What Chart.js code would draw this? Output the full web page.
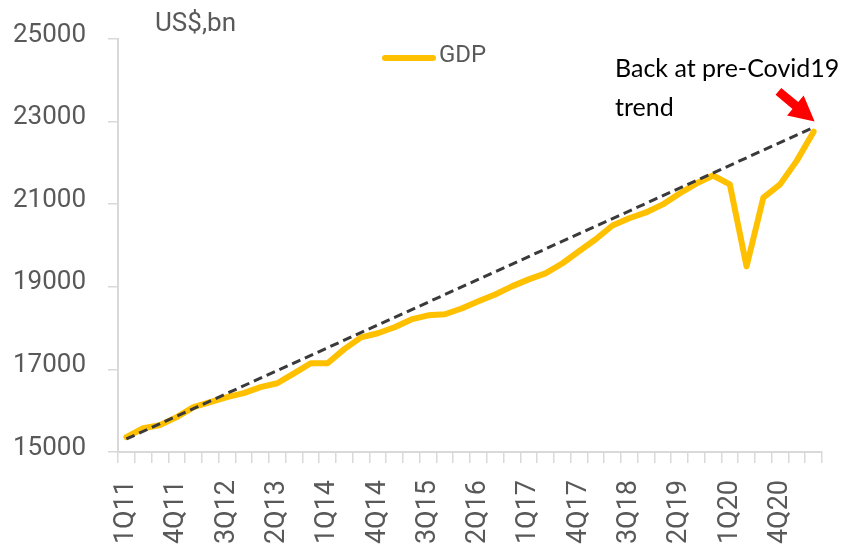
<!DOCTYPE html>
<html>
<head>
<meta charset="utf-8">
<title>US GDP</title>
<script src="https://cdn.jsdelivr.net/npm/chart.js@4/dist/chart.umd.min.js"></script>
<style>
  html, body { margin: 0; padding: 0; background: #ffffff; overflow: hidden; }
  #wrap { position: relative; width: 844px; height: 550px; }
  #chart { position: absolute; left: 0; top: 0; }
  .unit { position: absolute; left: 155px; top: 9px; font: 26px/26px Roboto, sans-serif; color: #595959; white-space: nowrap; }
  .legend { position: absolute; left: 382px; top: 42px; height: 24px; white-space: nowrap; }
  .legend .swatch { position: absolute; left: 0; top: 13px; width: 54px; height: 6px; border-radius: 3px; background: #FFC000; }
  .legend .name { position: absolute; left: 57px; top: 0; font: 24px/24px Roboto, sans-serif; color: #595959; }
  .note { position: absolute; left: 615px; top: 48px; font: 25px/39px Lato, sans-serif; color: #000000; white-space: nowrap; }
</style>
</head>
<body>
<div id="wrap">
  <canvas id="chart" width="844" height="550"></canvas>
  <div class="unit">US$,bn</div>
  <div class="legend"><span class="swatch"></span><span class="name">GDP</span></div>
  <div class="note">Back at pre-Covid19<br>trend</div>
</div>
<script>
// Quarterly nominal GDP, US$ bn
const quarters = [
  '1Q11','2Q11','3Q11','4Q11','1Q12','2Q12','3Q12','4Q12',
  '1Q13','2Q13','3Q13','4Q13','1Q14','2Q14','3Q14','4Q14',
  '1Q15','2Q15','3Q15','4Q15','1Q16','2Q16','3Q16','4Q16',
  '1Q17','2Q17','3Q17','4Q17','1Q18','2Q18','3Q18','4Q18',
  '1Q19','2Q19','3Q19','4Q19','1Q20','2Q20','3Q20','4Q20',
  '1Q21','2Q21'
];
const gdp = [
  15360, 15575, 15650, 15845, 16085, 16205, 16330, 16425,
  16570, 16665, 16905, 17150, 17150, 17490, 17775, 17875,
  18020, 18210, 18310, 18335, 18475, 18650, 18815, 19010,
  19180, 19325, 19565, 19860, 20150, 20485, 20660, 20800,
  20995, 21260, 21500, 21695, 21480, 19495, 21160, 21480,
  22055, 22755
];
// Pre-Covid19 trend: straight line between its two end values
const trendStart = 15315;
const trendEnd = 22860;
// Axis settings
const yMin = 15000;
const yMax = 25000;
const yStep = 2000;
const labelEvery = 3;

const trend = quarters.map((q, i) =>
  i === 0 ? trendStart : (i === quarters.length - 1 ? trendEnd : null));

const axisGrey = '#d9d9d9';
const textGrey = '#595959';

// Red arrow pointing at the end of the trend line
const arrowPlugin = {
  id: 'trendArrow',
  afterDatasetsDraw(chart) {
    const meta = chart.getDatasetMeta(0);
    const pt = meta.data[meta.data.length - 1];
    if (!pt) return;
    const ctx = chart.ctx;
    const tipX = pt.x + 1, tipY = pt.y - 6;
    const ang = Math.atan2(29, 35);
    const len = 47, headLen = 25, headHalf = 13, shaftHalf = 4.5;
    ctx.save();
    ctx.translate(tipX, tipY);
    ctx.rotate(ang);
    ctx.fillStyle = '#FF0000';
    ctx.beginPath();
    ctx.moveTo(0, 0);
    ctx.lineTo(-headLen, -headHalf);
    ctx.lineTo(-headLen, -shaftHalf);
    ctx.lineTo(-len, -shaftHalf);
    ctx.lineTo(-len, shaftHalf);
    ctx.lineTo(-headLen, shaftHalf);
    ctx.lineTo(-headLen, headHalf);
    ctx.closePath();
    ctx.fill();
    ctx.restore();
  }
};

new Chart(document.getElementById('chart'), {
  type: 'line',
  data: {
    labels: quarters,
    datasets: [
      {
        label: 'Trend',
        data: trend,
        spanGaps: true,
        borderColor: '#3a3a3a',
        borderWidth: 3,
        borderDash: [9, 5],
        pointRadius: 0,
        tension: 0,
        order: 1
      },
      {
        label: 'GDP',
        data: gdp,
        borderColor: '#FFC000',
        borderWidth: 6,
        borderJoinStyle: 'round',
        borderCapStyle: 'round',
        pointRadius: 0,
        tension: 0,
        order: 2
      }
    ]
  },
  options: {
    responsive: false,
    animation: false,
    layout: { padding: { left: 0, right: 22, top: 39, bottom: 0 } },
    plugins: {
      legend: { display: false },
      tooltip: { enabled: false }
    },
    scales: {
      x: {
        type: 'category',
        offset: true,
        afterFit(scale) {
          scale.height = 98;
          scale.paddingLeft = 0;
          scale.paddingRight = 0;
        },
        grid: {
          offset: true,
          drawOnChartArea: false,
          drawTicks: true,
          tickLength: 11,
          color: axisGrey,
          lineWidth: 1.5
        },
        border: { display: true, color: axisGrey, width: 2 },
        ticks: {
          autoSkip: false,
          minRotation: 90,
          maxRotation: 90,
          padding: 17,
          color: textGrey,
          font: { family: 'Roboto', size: 27 },
          callback(value, index) {
            return index % labelEvery === 0 ? quarters[index] : '';
          }
        }
      },
      y: {
        min: yMin,
        max: yMax,
        afterFit(scale) { scale.width = 118; },
        grid: {
          drawOnChartArea: false,
          drawTicks: true,
          tickLength: 10,
          color: axisGrey,
          lineWidth: 1.5
        },
        border: { display: true, color: axisGrey, width: 2 },
        ticks: {
          stepSize: yStep,
          padding: 22,
          labelOffset: -4,
          color: textGrey,
          font: { family: 'Roboto', size: 26 },
          callback(value) { return String(value); }
        }
      }
    }
  },
  plugins: [arrowPlugin]
});
</script>
</body>
</html>
